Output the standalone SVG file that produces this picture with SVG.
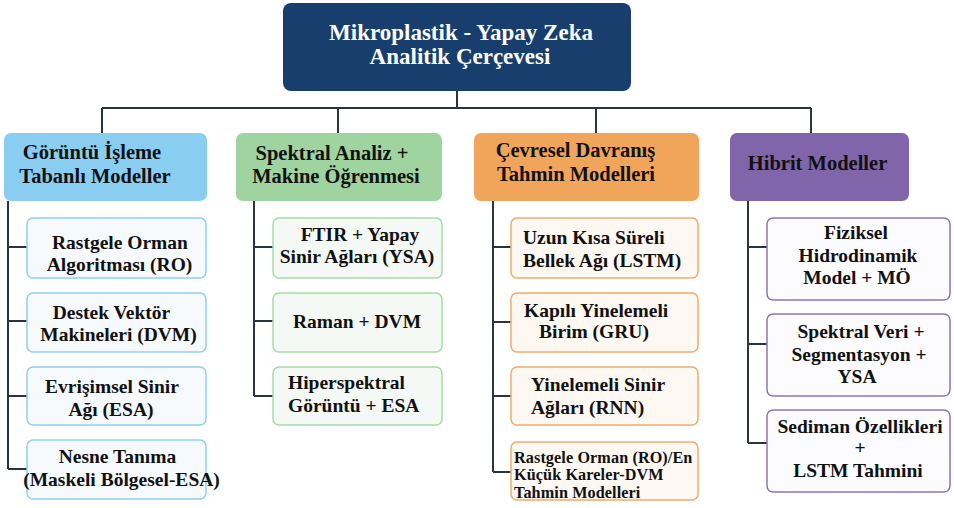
<svg xmlns="http://www.w3.org/2000/svg" width="954" height="508" viewBox="0 0 954 508">
<style>
text{font-family:"Liberation Serif","Times New Roman",Times,"DejaVu Serif",serif;font-weight:bold;fill:#111;}
.t{font-size:23px;fill:#fff;text-anchor:middle;}
.h{font-size:20.5px;}
.c{font-size:19.5px;}
.s{font-size:16.2px;letter-spacing:0.1px;}
.m{text-anchor:middle;}
.ln{stroke:#2c3440;stroke-width:2;fill:none;}
.cb{stroke-width:1.5;}
.b{fill:#f6fafd;stroke:#8fd0f0;}
.g{fill:#f4f9f6;stroke:#a6dba8;}
.o{fill:#fdf8f2;stroke:#f2ab6c;}
.p{fill:#fcfbfe;stroke:#8c74bc;}
</style>
<rect width="954" height="508" fill="#fff"/>
<g id="connectors" class="ln">
<path d="M457 91V108M102 108H811M102 108V133M338 108V133M596 108V133M811 108V133"/>
<path d="M8 201V469M8 247H27M8 321H27M8 396H27M8 469H27"/>
<path d="M254 201V396M254 247H273M254 321H273M254 396H273"/>
<path d="M493 201V472M493 247H511M493 322H511M493 396H511M493 472H511"/>
<path d="M748 201V443M748 247H767M748 344H767M748 443H767"/>
</g>
<g id="root">
<rect x="283" y="3" width="348" height="88" rx="8" fill="#173e6d"/>
<text class="t" x="461" y="40">Mikroplastik - Yapay Zeka</text>
<text class="t" x="460" y="64">Analitik Çerçevesi</text>
</g>
<g id="cat-goruntu">
<rect x="4" y="133" width="203" height="68" rx="7" fill="#89cef1"/>
<text class="h m" x="92" y="159">Görüntü İşleme</text>
<text class="h m" x="95" y="183">Tabanlı Modeller</text>
</g>
<g id="cat-spektral">
<rect x="236" y="133" width="206" height="68" rx="7" fill="#9fd3a0"/>
<text class="h m" x="332" y="160">Spektral Analiz +</text>
<text class="h m" x="336" y="183">Makine Öğrenmesi</text>
</g>
<g id="cat-cevresel">
<rect x="474" y="133" width="225" height="68" rx="7" fill="#f1a55b"/>
<text class="h m" x="575.5" y="157">Çevresel Davranış</text>
<text class="h m" x="576" y="181">Tahmin Modelleri</text>
</g>
<g id="cat-hibrit">
<rect x="730" y="133" width="179" height="68" rx="7" fill="#8065aa"/>
<text class="h m" x="817.5" y="170">Hibrit Modeller</text>
</g>
<g id="n-ro">
<rect class="cb b" x="27" y="218" width="179" height="60" rx="6"/>
<text class="c m" x="120" y="249">Rastgele Orman</text>
<text class="c m" x="119.5" y="271">Algoritması (RO)</text>
</g>
<g id="n-dvm">
<rect class="cb b" x="27" y="293" width="179" height="59" rx="6"/>
<text class="c m" x="111.5" y="319">Destek Vektör</text>
<text class="c m" x="118.5" y="341">Makineleri (DVM)</text>
</g>
<g id="n-esa">
<rect class="cb b" x="27" y="367" width="179" height="58" rx="6"/>
<text class="c m" x="112" y="393">Evrişimsel Sinir</text>
<text class="c m" x="111" y="416">Ağı (ESA)</text>
</g>
<g id="n-nesne">
<rect class="cb b" x="27" y="440" width="179" height="59" rx="6"/>
<text class="c m" x="117.5" y="463">Nesne Tanıma</text>
<text class="c m" x="121.5" y="486">(Maskeli Bölgesel-ESA)</text>
</g>
<g id="n-ftir">
<rect class="cb g" x="273" y="218" width="169" height="60" rx="6"/>
<text class="c m" x="360" y="241">FTIR + Yapay</text>
<text class="c m" x="357" y="263">Sinir Ağları (YSA)</text>
</g>
<g id="n-raman">
<rect class="cb g" x="273" y="293" width="169" height="59" rx="6"/>
<text class="c m" x="357" y="328">Raman + DVM</text>
</g>
<g id="n-hiper">
<rect class="cb g" x="273" y="367" width="169" height="58" rx="6"/>
<text class="c" x="288" y="389">Hiperspektral</text>
<text class="c" x="288" y="412">Görüntü + ESA</text>
</g>
<g id="n-lstm">
<rect class="cb o" x="511" y="218" width="187" height="60" rx="6"/>
<text class="c" x="523" y="244">Uzun Kısa Süreli</text>
<text class="c" x="523" y="267">Bellek Ağı (LSTM)</text>
</g>
<g id="n-gru">
<rect class="cb o" x="511" y="293" width="187" height="59" rx="6"/>
<text class="c" x="524" y="317">Kapılı Yinelemeli</text>
<text class="c" x="539" y="338">Birim (GRU)</text>
</g>
<g id="n-rnn">
<rect class="cb o" x="511" y="367" width="187" height="58" rx="6"/>
<text class="c" x="531" y="391">Yinelemeli Sinir</text>
<text class="c" x="531" y="414">Ağları (RNN)</text>
</g>
<g id="n-rodvm">
<rect class="cb o" x="511" y="442" width="187" height="58" rx="6"/>
<text class="s" x="514" y="463">Rastgele Orman (RO)/En</text>
<text class="s" x="514" y="480">Küçük Kareler-DVM</text>
<text class="s" x="514" y="498">Tahmin Modelleri</text>
</g>
<g id="n-fiziksel">
<rect class="cb p" x="767" y="218" width="183" height="82" rx="6"/>
<text class="c m" x="856" y="239">Fiziksel</text>
<text class="c m" x="858" y="262">Hidrodinamik</text>
<text class="c m" x="857" y="284">Model + MÖ</text>
</g>
<g id="n-spektralveri">
<rect class="cb p" x="767" y="314" width="183" height="82" rx="6"/>
<text class="c m" x="861" y="338">Spektral Veri +</text>
<text class="c m" x="859" y="361">Segmentasyon +</text>
<text class="c m" x="857" y="383">YSA</text>
</g>
<g id="n-sediman">
<rect class="cb p" x="767" y="410" width="183" height="82" rx="6"/>
<text class="c m" x="860" y="433">Sediman Özellikleri</text>
<text class="c m" x="860" y="454">+</text>
<text class="c m" x="858" y="477">LSTM Tahmini</text>
</g>
</svg>
